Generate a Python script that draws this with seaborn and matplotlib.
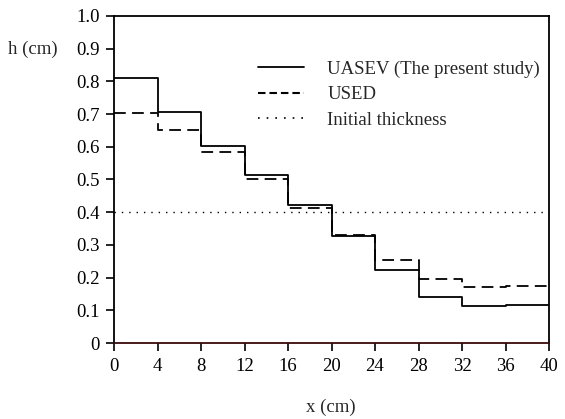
import matplotlib
matplotlib.use("Agg")
import matplotlib.pyplot as plt
from matplotlib.lines import Line2D
import seaborn as sns
import numpy as np
import pandas as pd

x_edges = [0, 4, 8, 12, 16, 20, 24, 28, 32, 36, 40]
uasev = [0.81, 0.705, 0.603, 0.514, 0.423, 0.328, 0.223, 0.140, 0.113, 0.117]
used = [0.702, 0.652, 0.585, 0.502, 0.413, 0.330, 0.253, 0.197, 0.170, 0.173]
initial_thickness = 0.4
x_ticks = [0, 4, 8, 12, 16, 20, 24, 28, 32, 36, 40]
y_ticks = [0.0, 0.1, 0.2, 0.3, 0.4, 0.5, 0.6, 0.7, 0.8, 0.9, 1.0]
y_tick_labels = ["0", "0.1", "0.2", "0.3", "0.4", "0.5", "0.6", "0.7", "0.8", "0.9", "1.0"]
series_names = ["UASEV (The present study)", "USED", "Initial thickness"]

sns.set_style("white")
plt.rcParams['font.family'] = ['Liberation Serif', 'DejaVu Serif']

FS = 13.5
fig = plt.figure(figsize=(5.65, 4.19), dpi=100)
ax = fig.add_axes([114/565, 1-343/419, (549-114)/565, (343-16)/419])

df_u = pd.DataFrame({"x": x_edges, "h": uasev + [uasev[-1]]})
df_s = pd.DataFrame({"x": x_edges, "h": used + [used[-1]]})
df_i = pd.DataFrame({"x": [x_edges[0], x_edges[-1]], "h": [initial_thickness]*2})

sns.lineplot(data=df_u, x="x", y="h", drawstyle="steps-post", color="black",
             lw=1.3, estimator=None, ax=ax, legend=False)
sns.lineplot(data=df_s, x="x", y="h", drawstyle="steps-post", color="black",
             lw=1.3, linestyle=(0, (6.5, 3.5)), estimator=None, ax=ax, legend=False)
sns.lineplot(data=df_i, x="x", y="h", color="black", lw=1.0,
             linestyle=(0, (1, 4.3)), estimator=None, ax=ax, legend=False)

ax.set_xlim(0, 40)
ax.set_ylim(0, 1.0)
ax.set_xticks(x_ticks)
ax.set_xticklabels([str(t) for t in x_ticks])
ax.set_yticks(y_ticks)
ax.set_yticklabels(y_tick_labels)
ax.tick_params(axis='both', direction='out', length=6, width=1.2, labelsize=FS,
               colors='black', pad=4, bottom=True, left=True)
ax.tick_params(axis='x', pad=5)
for s in ax.spines.values():
    s.set_visible(True)
    s.set_color('black')
    s.set_linewidth(1.3)
ax.spines['bottom'].set_color('#3a0a0a')

ax.set_xlabel("")
ax.set_ylabel("")
fig.text(331/565, 1-407/419, "x (cm)", ha='center', va='center', fontsize=FS)
fig.text(33/565, 1-49/419, "h (cm)", ha='center', va='center', fontsize=FS)

handles = [
    Line2D([], [], color='black', lw=1.3),
    Line2D([], [], color='black', lw=1.5, linestyle=(0, (3.6, 1.9))),
    Line2D([], [], color='black', lw=1.2, linestyle=(0, (1, 4.2))),
]
leg = ax.legend(handles, series_names, loc='upper left',
                bbox_to_anchor=((250-114)/435, (343-53)/327),
                frameon=False, fontsize=FS, handlelength=2.5, handletextpad=1.23,
                labelspacing=0.45, borderaxespad=0)

fig.savefig("out.png", dpi=100)
